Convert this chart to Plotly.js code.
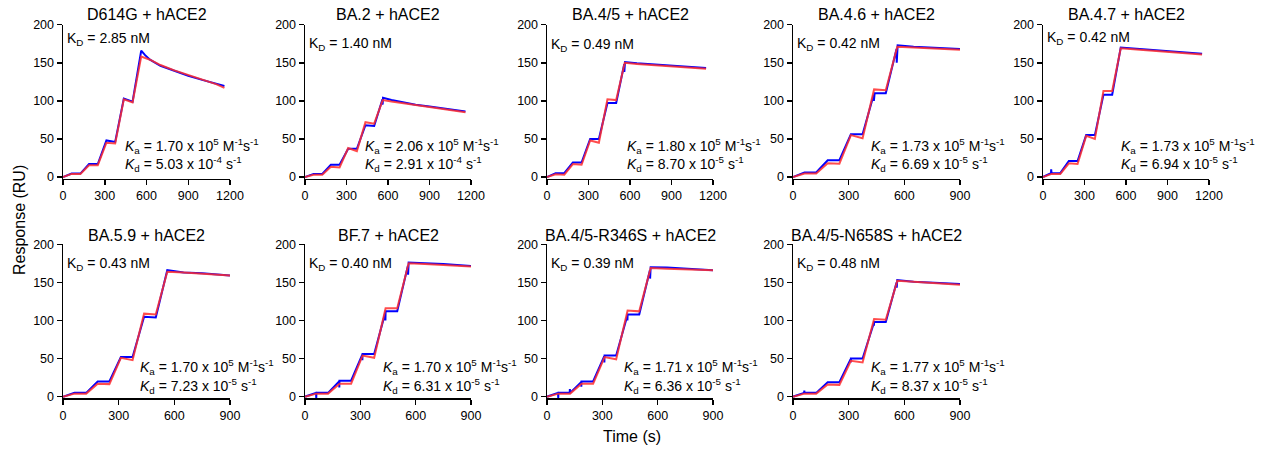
<!DOCTYPE html>
<html>
<head>
<meta charset="utf-8">
<script src="https://cdn.plot.ly/plotly-3.0.1.min.js"></script>
<style>html,body{margin:0;padding:0;background:#fff}#chart{width:1266px;height:451px}</style>
</head>
<body>
<div id="chart"></div>
<script>
// ---- data ----
const titles = ["D614G + hACE2","BA.2 + hACE2","BA.4/5 + hACE2","BA.4.6 + hACE2","BA.4.7 + hACE2",
                "BA.5.9 + hACE2","BF.7 + hACE2","BA.4/5-R346S + hACE2","BA.4/5-N658S + hACE2"];
const KD = ["2.85","1.40","0.49","0.42","0.42","0.43","0.40","0.39","0.48"];
const KaMant = ["1.70","2.06","1.80","1.73","1.73","1.70","1.70","1.71","1.77"];
const KaExp = ["5","5","5","5","5","5","5","5","5"];
const KdMant = ["5.03","2.91","8.70","6.69","6.94","7.23","6.31","6.36","8.37"];
const KdExp = ["-4","-4","-5","-5","-5","-5","-5","-5","-5"];
const xMax = [1200,1200,1200,900,1200,900,900,900,900];

const stepT = [0,62,125,187,250,312,375,437,500,562];

// D614G
const d614g_t   = [0,62,125,187,250,312,375,437,500,562,590,625,700,800,900,1000,1100,1160];
const d614g_y   = [0,4.5,4.5,17,17,48,46,103,99,166,160,154,146,139,133,127.5,122.5,119.5];
const d614g_ft  = stepT.concat([625,700,800,900,1000,1100,1160]);
const d614g_fy  = [0,4,4,15.5,15.5,45,44,102,98,158,154,147,140,134,128,122,117];
// BA.2
const ba2_t  = [0,62,125,187,250,312,375,437,500,560,561,564,625,700,800,900,1000,1100,1160];
const ba2_y  = [0,4,4,16,16,37,37,68,67,102,95,104,101,98,95,92.5,90,87.5,86];
const ba2_ft = stepT.concat([625,700,800,900,1000,1100,1160]);
const ba2_fy = [0,3,3,13.5,12.5,38,34,72,70,101,99,97,94,91.5,89,86.5,85];
// BA.4/5
const ba45_t  = [0,62,125,187,250,312,375,437,500,558,559,564,650,750,900,1050,1150];
const ba45_y  = [0,5,5,19,19,50,50,97,97,148,138,151,149.5,148,146,144,143];
const ba45_ft = stepT.concat([650,750,900,1050,1150]);
const ba45_fy = [0,3.5,3,17,16,48,45,102,101,150,148.5,147,145.5,143.5,142];
// BA.4.6
const ba46_t  = [0,62,125,187,250,312,375,435,436,440,500,558,559,564,650,750,900];
const ba46_y  = [0,6,6,22,22,56,56,108,100,110,110,168,150,173,171,170,168];
const ba46_ft = stepT.concat([650,750,900]);
const ba46_fy = [0,4.5,4.5,18,17.5,55,51,115,114,171,170,169,167];
// BA.4.7
const ba47_t  = [0,58,59,62,125,187,250,312,375,437,500,562,700,850,1000,1150];
const ba47_y  = [0,5,10,5,5,21,21,55,55,108,108,170,168,166,164,162];
const ba47_ft = stepT.concat([700,850,1000,1150]);
const ba47_fy = [0,4,4,18,17,54,50,113,113,169,167,165,163.5,161];
// BA.5.9
const ba59_t  = stepT.concat([650,750,900]);
const ba59_y  = [0,5,5,20,20,52,52,105,104,166,163,162,159];
const ba59_ft = stepT.concat([650,750,900]);
const ba59_fy = [0,4,4,17,16.5,51,48,109,108,164,163,161.5,159];
// BF.7
const bf7_t  = [0,60,61,62,125,185,186,187,250,310,311,312,375,435,436,437,500,558,559,562,650,750,900];
const bf7_y  = [0,5,-2,5,5,20,12,21,21,55,48,56,56,110,100,112,112,172,160,176,175,174,171.5];
const bf7_ft = stepT.concat([650,750,900]);
const bf7_fy = [0,4,4,17,17,54,51,116,116,175,174,173,171];
// BA.4/5-R346S
const r346s_t  = [0,60,61,62,123,124,125,185,186,187,250,310,311,312,375,435,436,437,500,558,559,562,650,750,900];
const r346s_y  = [0,5,-2,5,5,10,5,19,13,20,20,53,45,54,54,106,100,108,108,166,155,170,169.5,168,166];
const r346s_ft = stepT.concat([650,750,900]);
const r346s_fy = [0,4,4,17,17,52,49,113,112,169,168,167.5,166];
// BA.4/5-N658S
const n658s_t  = [0,60,61,62,125,187,250,310,311,312,375,435,436,437,500,558,559,562,650,750,900];
const n658s_y  = [0,5,8,5,5,19,19,49,45,50,50,96,93,98,98,150,143,153,151,150,148];
const n658s_ft = stepT.concat([650,750,900]);
const n658s_fy = [0,4,4,16,15.5,47,45,102,101,152,151,149.5,147];

const blueT = [d614g_t,ba2_t,ba45_t,ba46_t,ba47_t,ba59_t,bf7_t,r346s_t,n658s_t];
const blueY = [d614g_y,ba2_y,ba45_y,ba46_y,ba47_y,ba59_y,bf7_y,r346s_y,n658s_y];
const fitT  = [d614g_ft,ba2_ft,ba45_ft,ba46_ft,ba47_ft,ba59_ft,bf7_ft,r346s_ft,n658s_ft];
const fitY  = [d614g_fy,ba2_fy,ba45_fy,ba46_fy,ba47_fy,ba59_fy,bf7_fy,r346s_fy,n658s_fy];

// ---- layout geometry (pixels) ----
const W = 1266, H = 451;
const colX = [[63,230],[305,471],[547,713],[793,960],[1043,1209]];
const rowY = [[24.7,178.5],[244.3,398.2]];
const titleY = [14.5,235.5];
const kdY = [39,44,45,44.5,38,264,264,264,264];
const kaX = [123,363,625,869,1119,138,381,622,869];
const kaY = [146,367], kdlY = [164,386];
const FONT = '"Liberation Sans", Arial, Helvetica, sans-serif';

const px = v => v / W;
const py = v => 1 - v / H;

const data = [];
const layout = {
  width: W, height: H,
  margin: {l:0, r:0, t:0, b:0},
  paper_bgcolor: '#fff', plot_bgcolor: 'rgba(0,0,0,0)',
  showlegend: false,
  font: {family: FONT, color: '#000', size: 12.5},
  annotations: []
};

for (let i = 0; i < 9; i++) {
  const row = i < 5 ? 0 : 1;
  const col = i < 5 ? i : i - 5;
  const n = i + 1;
  const xa = 'xaxis' + (n === 1 ? '' : n), ya = 'yaxis' + (n === 1 ? '' : n);
  const xr = 'x' + (n === 1 ? '' : n), yr = 'y' + (n === 1 ? '' : n);
  const axCommon = {
    showline: true, linecolor: '#000', linewidth: 1.5,
    ticks: 'outside', ticklen: 5, tickwidth: 1.5, tickcolor: '#000',
    showgrid: false, zeroline: false, fixedrange: true,
    tickfont: {family: FONT, size: 12.5, color: '#000'}
  };
  layout[xa] = Object.assign({}, axCommon, {
    domain: [px(colX[col][0]), px(colX[col][1])],
    range: [0, xMax[i]], tickvals: xMax[i] === 1200 ? [0,300,600,900,1200] : [0,300,600,900],
    anchor: yr
  });
  layout[ya] = Object.assign({}, axCommon, {
    domain: [py(rowY[row][1]), py(rowY[row][0])],
    range: [-2, 200], tickvals: [0,50,100,150,200],
    anchor: xr
  });
  data.push({x: blueT[i], y: blueY[i], xaxis: xr, yaxis: yr, mode: 'lines',
             line: {color: '#0000ff', width: 2}, hoverinfo: 'skip'});
  data.push({x: fitT[i], y: fitY[i], xaxis: xr, yaxis: yr, mode: 'lines',
             line: {color: 'rgba(255,45,45,0.85)', width: 2}, hoverinfo: 'skip'});

  const cx = (colX[col][0] + colX[col][1]) / 2;
  layout.annotations.push({xref:'paper', yref:'paper', x: px(cx), y: py(titleY[row]),
    xanchor:'center', yanchor:'middle', showarrow:false, text: titles[i],
    font:{family: FONT, size: 16, color:'#000'}});
  layout.annotations.push({xref:'paper', yref:'paper', x: px(colX[col][0] + 2), y: py(kdY[i]),
    xanchor:'left', yanchor:'middle', showarrow:false,
    text: 'K<sub>D</sub> = ' + KD[i] + ' nM', font:{family: FONT, size: 14, color:'#000'}});
  layout.annotations.push({xref:'paper', yref:'paper', x: px(kaX[i]), y: py(kaY[row]),
    xanchor:'left', yanchor:'middle', showarrow:false,
    text: '<i>K</i><sub>a</sub> = ' + KaMant[i] + ' x 10<sup>' + KaExp[i] + '</sup> M<sup>-1</sup>s<sup>-1</sup>',
    font:{family: FONT, size: 14, color:'#000'}});
  layout.annotations.push({xref:'paper', yref:'paper', x: px(kaX[i]), y: py(kdlY[row]),
    xanchor:'left', yanchor:'middle', showarrow:false,
    text: '<i>K</i><sub>d</sub> = ' + KdMant[i] + ' x 10<sup>' + KdExp[i] + '</sup> s<sup>-1</sup>',
    font:{family: FONT, size: 14, color:'#000'}});
}

layout.annotations.push({xref:'paper', yref:'paper', x: px(19), y: py(220),
  xanchor:'center', yanchor:'middle', showarrow:false, textangle: -90,
  text: 'Response (RU)', font:{family: FONT, size: 16, color:'#000'}});
layout.annotations.push({xref:'paper', yref:'paper', x: px(632), y: py(436),
  xanchor:'center', yanchor:'middle', showarrow:false,
  text: 'Time (s)', font:{family: FONT, size: 16, color:'#000'}});

Plotly.newPlot('chart', data, layout, {displayModeBar: false, staticPlot: true});
</script>
</body>
</html>
